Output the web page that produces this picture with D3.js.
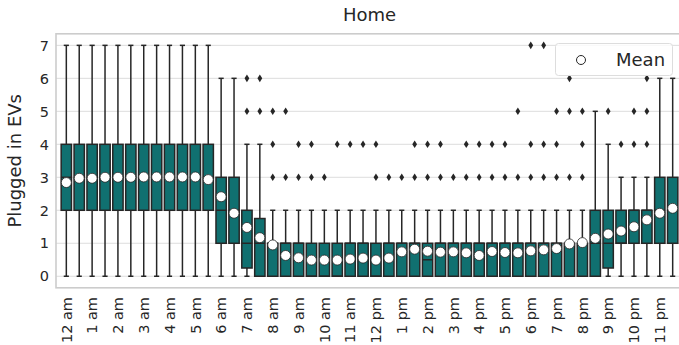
<!DOCTYPE html>
<html><head><meta charset="utf-8">
<script src="https://cdn.jsdelivr.net/npm/d3@7"></script>
<style>body{margin:0;background:#fff}svg{display:block}</style>
</head><body><svg id="c" width="679" height="345"></svg>
<script>
const hourLabels = ["12 am","1 am","2 am","3 am","4 am","5 am","6 am","7 am","8 am","9 am","10 am","11 am",
  "12 pm","1 pm","2 pm","3 pm","4 pm","5 pm","6 pm","7 pm","8 pm","9 pm","10 pm","11 pm"];
const slots = d3.range(48);
const q1 = [2,2,2,2,2,2,2,2,2,2,2,2, 1,1,0.25,0, 0,0,0,0,0,0,0,0,0,0,0,0,0,0,0,0,0,0,0,0,0,0,0,0,0, 0,0.25,1,1,1,1,1];
const med = [3,3,3,3,3,3,3,3,3,3,3,3, 2,2,1,1, 1,1,1,0,0,0,1,1,0,1,1,1,0.5,1,1,1,1,1,1,1,1,1,1,1,1, 1,1,1,2,2,2,2];
const q3 = [4,4,4,4,4,4,4,4,4,4,4,4, 3,3,2,1.75, 1,1,1,1,1,1,1,1,1,1,1,1,1,1,1,1,1,1,1,1,1,1,1,1,1, 2,2,2,2,2,3,3];
const whiskLo = Array(48).fill(0);
const whiskHi = [7,7,7,7,7,7,7,7,7,7,7,7, 6,6,4,4, 2,2,2,2,2,2,2,2,2,2,2,2,2,2,2,2,2,2,2,2,2,2,2,2,2, 5,4,3,3,3,6,6];
const means = [2.84,2.97,2.97,3.0,3.0,3.0,3.01,3.01,3.01,3.01,3.01,2.93,
  2.41,1.91,1.48,1.17,0.95,0.63,0.56,0.49,0.49,0.49,0.52,0.55,
  0.49,0.55,0.74,0.82,0.76,0.73,0.74,0.71,0.63,0.75,0.72,0.71,
  0.77,0.80,0.84,0.98,1.02,1.15,1.28,1.37,1.50,1.71,1.91,2.06];
const outliers = {14:[5,6],15:[5,6],16:[3,4,5],17:[3,5],18:[3,4],19:[3,4],20:[3],21:[4],22:[4],23:[4],
  24:[3,4],25:[3],26:[3],27:[3,4],28:[3,4],29:[3,4],30:[3],31:[3,4],32:[3,4],33:[3,4],34:[3,4],
  35:[3,5],36:[3,4,7],37:[3,4,7],38:[3,4,5],39:[3,5,6],40:[3,4,5],42:[5],43:[4],44:[4,5],45:[4,5,6]};
const yTicks = [0,1,2,3,4,5,6,7];
const chartTitle = "Home", yTitle = "Plugged in EVs", legendLabel = "Mean";

(function () {
const boxFill = "#107070", ink = "#262626";
const svg = d3.select("#c");
const pL = 56, pR = 683, pT = 33.8, pB = 287.8;
const x = d3.scaleLinear().domain([-0.8, 47.8]).range([pL, pR]);
const y = d3.scaleLinear().domain([-0.35, 7.35]).range([pB, pT]);
const bw = (x(1) - x(0)) * 0.8;

svg.append("g").selectAll("line").data(yTicks).join("line")
  .attr("x1", pL).attr("x2", pR).attr("y1", d => y(d)).attr("y2", d => y(d))
  .attr("stroke", "#dddddd").attr("stroke-width", 1);
svg.append("rect").attr("x", pL).attr("y", pT).attr("width", pR - pL).attr("height", pB - pT)
  .attr("fill", "none").attr("stroke", "#cccccc").attr("stroke-width", 1.6);

svg.append("g").selectAll("text").data(yTicks).join("text")
  .attr("x", 49).attr("y", d => y(d)).attr("dy", "0.36em").attr("text-anchor", "end")
  .attr("font-family", "DejaVu Sans").attr("font-size", 14.5).attr("fill", ink).text(d => d);
svg.append("g").selectAll("text").data(hourLabels).join("text")
  .attr("transform", (d, i) => `translate(${x(i * 2)},297) rotate(-90)`)
  .attr("text-anchor", "end").attr("dy", "0.36em")
  .attr("font-family", "DejaVu Sans").attr("font-size", 14.5).attr("fill", ink).text(d => d);

svg.append("text").attr("x", (pL + pR) / 2).attr("y", 21).attr("text-anchor", "middle")
  .attr("font-family", "DejaVu Sans").attr("font-size", 18).attr("fill", ink).text(chartTitle);
svg.append("text").attr("transform", `translate(20.5,${(pT + pB) / 2}) rotate(-90)`).attr("text-anchor", "middle")
  .attr("font-family", "DejaVu Sans").attr("font-size", 18).attr("fill", ink).text(yTitle);

const g = svg.append("g");
g.selectAll(".wl").data(slots).join("line")
  .attr("x1", i => x(i)).attr("x2", i => x(i))
  .attr("y1", i => y(whiskHi[i])).attr("y2", i => y(whiskLo[i]))
  .attr("stroke", ink).attr("stroke-width", 1.5);
g.selectAll(".cap").data(slots.flatMap(i => [[i, whiskHi[i]], [i, whiskLo[i]]])).join("line")
  .attr("x1", d => x(d[0]) - bw / 4).attr("x2", d => x(d[0]) + bw / 4)
  .attr("y1", d => y(d[1])).attr("y2", d => y(d[1]))
  .attr("stroke", ink).attr("stroke-width", 1.5);
g.selectAll(".box").data(slots).join("rect")
  .attr("x", i => x(i) - bw / 2).attr("width", bw)
  .attr("y", i => y(q3[i])).attr("height", i => y(q1[i]) - y(q3[i]))
  .attr("fill", boxFill).attr("stroke", ink).attr("stroke-width", 1.5);
g.selectAll(".med").data(slots).join("line")
  .attr("x1", i => x(i) - bw / 2).attr("x2", i => x(i) + bw / 2)
  .attr("y1", i => y(med[i])).attr("y2", i => y(med[i]))
  .attr("stroke", ink).attr("stroke-width", 1.5);
const fl = slots.flatMap(i => (outliers[i] || []).map(v => [i, v]));
g.selectAll(".fl").data(fl).join("path")
  .attr("d", d => { const cx = x(d[0]), cy = y(d[1]); return `M${cx},${cy-3.8}L${cx+2.4},${cy}L${cx},${cy+3.8}L${cx-2.4},${cy}Z`; })
  .attr("fill", ink);
g.selectAll(".mean").data(slots).join("circle")
  .attr("cx", i => x(i)).attr("cy", i => y(means[i])).attr("r", 5)
  .attr("fill", "#fff").attr("stroke", ink).attr("stroke-width", 0.8);

const lg = svg.append("g");
lg.append("rect").attr("x", 555.5).attr("y", 43.5).attr("width", 117).attr("height", 32).attr("rx", 3)
  .attr("fill", "#fff").attr("fill-opacity", 0.8).attr("stroke", "#dddddd").attr("stroke-width", 1);
lg.append("circle").attr("cx", 581).attr("cy", 60).attr("r", 4.5).attr("fill", "#fff").attr("stroke", ink).attr("stroke-width", 1);
lg.append("text").attr("x", 616).attr("y", 66).attr("font-family", "DejaVu Sans").attr("font-size", 18).attr("fill", ink).text(legendLabel);
})();
</script></body></html>
